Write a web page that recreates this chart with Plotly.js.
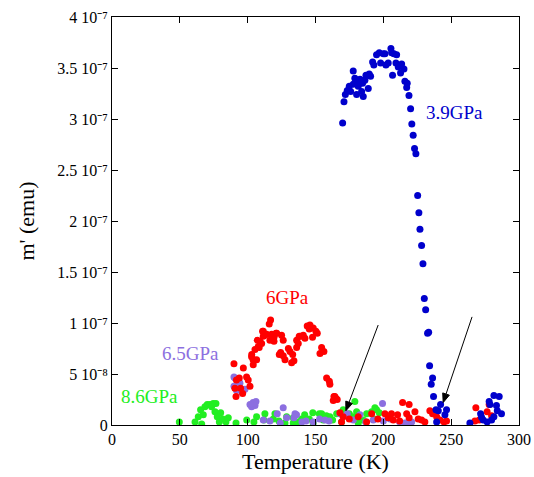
<!DOCTYPE html>
<html>
<head>
<meta charset="utf-8">
<script src="https://cdn.plot.ly/plotly-3.0.1.min.js"></script>
<style>html,body{margin:0;padding:0;background:#fff;}#chart{width:534px;height:477px;}</style>
</head>
<body>
<div id="chart"></div>
<script>
// values: temperature (K) and m' in units of 1e-8 emu
const blueT = [170,171,172,173.4,174.9,175.9,177.8,179,177.8,180.8,181.5,180.3,182.8,184,185.2,184.7,186.4,187.2,188.9,189.6,190.6,192.1,193,195,197,198,200,201.2,201.9,203.6,205.6,206.1,207.8,209.3,209.8,206.8,211,212.7,213.5,215.2,215.9,217.6,217.2,218.9,220.1,221,222,223,224,225.3,226.2,227,228.2,229.2,230.2,231.2,232.6,233.4,234.1,236.3,235.3,237,242.2,238.8,246.6,245.4,239.3,240.5,263.8,271.7,278.6,281.5,285.4,283.4,287.1,284,281.5,273.6,276.5,279.8,272.4,278];
const blueM = [29.6,31.7,32.4,32.8,33.2,32.7,34.7,34,33.4,33.6,33.2,32.4,33.9,32.7,32.2,33.5,33.8,34.3,33,34.4,34.2,35.6,35.3,36.3,36.5,35.5,36.4,36.4,35.3,35.5,36.9,36.5,36.4,35.5,36.3,34.3,35.1,34.5,35.4,34.9,33.7,33.5,33.1,32.3,31,29.5,28.4,27.1,26.6,22.5,20.8,19.2,17.6,15.8,12.4,11.3,9.0,9.1,5.8,4.6,4.0,2.8,2.0,1.5,1.5,1.0,0.3,1.4,0.2,1.1,2.0,2.9,2.8,1.9,1.1,1.4,0.8,0.5,0.3,0.5,0.75,2.3];

const redT = [89.9,96.8,91.7,93.8,99.2,100.4,91.4,96.3,90.6,94.8,101.7,102.9,104,105.4,107.8,109,111.5,112.7,116.9,115.9,120.9,119.4,111,114,111.5,117.7,116.4,119.4,121.4,125,126.2,107.1,108.5,110.3,103,106.6,104.1,124.3,123.3,126.2,127.5,130,131.2,133.2,132.4,134.1,136.1,137.3,139,141,138,142.2,143.9,145.9,145.4,148.3,150.3,151.3,147.8,154.5,156.2,153.3,136.1,158.2,160.2,160.6,163.6,165.1,163.1,164.3,166,168,170.4,169.2,174.9,181.5,187.7,191.4,201.2,203.6,206,207.3,214.2,219,217.2,223.3,219,225.7,228.2,230.6,234.3,236.3,238,241.7,244.7,246.6,239.3,268.2,276.5,270.7,267.5,278,279.8,210.5,212,196];
const redM = [6.0,5.6,4.4,4.6,4.7,4.4,2.8,3.1,3.6,3.6,3.8,6.7,6.4,7.4,7.7,8.2,9.2,8.8,10.3,9.9,9.0,8.2,9.2,8.9,8.7,8.9,8.3,8.6,9.0,8.8,8.3,8.3,7.6,8.0,6.9,6.4,5.9,7.1,6.9,6.8,6.4,7.5,7.2,6.9,6.1,6.3,7.6,8.0,8.7,8.8,8.7,8.5,9.7,9.8,9.4,9.5,9.2,9.0,8.6,7.6,7.2,7.0,8.3,4.6,4.3,4.0,2.8,2.6,2.4,2.8,2.5,1.2,0.8,0.3,0.6,0.8,0.3,1.1,1.1,0.7,1.1,0.5,2.2,2.0,1.1,1.3,0.7,0.6,0.5,0.3,1.4,1.1,1.3,0.5,0.3,0.4,0.8,1.7,1.3,0.5,0.4,2.0,0.9,1.0,0.4,0.6];

const purpleT = [89.9,94.3,89.9,96.8,91.7,93.8,90.6,93,91.7,98,95.6,104,102.9,106.1,105.4,101.7,111.5,116.4,121.8,126.2,128.7,134.1,136,134.9,143,148.3,153,160,168,173.4,177.8,182.8,187,192.6,199.4,200,205,212,216,217.2,219.6,220.9,124,140,157];
const purpleM = [4.7,4.1,3.8,3.4,3.8,4.2,4.6,3.9,3.4,3.5,3.2,2.2,1.8,2.3,1.9,2.0,0.5,0.4,1.1,1.7,0.7,0.7,1.0,1.1,0.4,0.3,0.6,0.4,1.1,1.1,0.5,1.0,0.3,0.5,2.1,0.4,0.6,0.3,0.2,0.2,0.2,0.3,0.2,0.3,0.5];

const greenT = [49.6,61.2,66.1,63.6,67.3,65.3,68.5,70.2,72.2,74.6,76.6,73.4,75.9,77.6,80.1,79.1,81.6,84,85.7,91.4,99.3,104.6,106.6,112.7,112,118.9,120.1,127.5,128.7,133.6,133.6,139.8,145.4,148.3,152.8,154.5,155.7,160.6,162.6,165.6,169.2,174.9,177.4,179,180.3,181.5,185.2,187.7,191.4,193.8,195,197,193.1,170.4,148,168,123,137,142,158];
const greenM = [0.3,0.3,0.1,0.8,1.0,1.5,1.8,2.0,2.0,2.1,2.1,1.8,1.3,0.8,1.2,0.3,0.6,0.3,0.7,0.2,0.5,0.3,0.8,1.1,0.5,0.6,1.1,0.2,0.8,0.7,0.2,0.6,0.6,0.2,1.1,1.1,0.5,0.8,0.5,1.1,0.3,1.1,0.8,2.3,1.3,0.2,0.5,1.1,1.3,1.7,1.5,1.2,0.6,1.5,1.2,1.1,0.4,0.3,1.0,0.9];

const yTickVals = [0,5e-8,1e-7,1.5e-7,2e-7,2.5e-7,3e-7,3.5e-7,4e-7];
const yTickText = ['0','5 10⁻⁸','1 10⁻⁷','1.5 10⁻⁷','2 10⁻⁷','2.5 10⁻⁷','3 10⁻⁷','3.5 10⁻⁷','4 10⁻⁷'];

const labels = ['3.9GPa','6GPa','6.5GPa','8.6GPa'];
const colors = ['#0000cc','#ff0000','#8c6fe0','#22ee22'];

// arrows: [tailT, tailM(1e-8), headT, headM(1e-8)]
const arrow1 = [196.2, 9.8, 172.4, 1.4];
const arrow2 = [265.4, 10.6, 244.1, 2.2];

const toEmu = a => a.map(v => v*1e-8);
function tr(x,y,c){return {x:x,y:toEmu(y),mode:'markers',type:'scatter',marker:{color:c,size:7}};}

const data = [tr(greenT,greenM,colors[3]), tr(purpleT,purpleM,colors[2]), tr(redT,redM,colors[1]), tr(blueT,blueM,colors[0])];

const W = 534, H = 477, M = {l:112,r:15,t:17,b:52};
const XR = [0,300], YR = [0,4e-7];
const sx = (W-M.l-M.r)/(XR[1]-XR[0]);
const sy = (H-M.t-M.b)/(YR[1]-YR[0]);
function arrowShapes(a){
  const x0=a[0], y0=a[1]*1e-8, x1=a[2], y1=a[3]*1e-8;
  let dx=(x1-x0)*sx, dy=(y1-y0)*sy; const L=Math.hypot(dx,dy); dx/=L; dy/=L;
  const hl=9, hw=3.5;
  const bx=x1-dx*hl/sx, by=y1-dy*hl/sy;
  const lx=bx+(-dy)*hw/sx, ly=by+(dx)*hw/sy;
  const rx=bx-(-dy)*hw/sx, ry=by-(dx)*hw/sy;
  return [
    {type:'line',xref:'x',yref:'y',x0:x0,y0:y0,x1:bx,y1:by,line:{color:'black',width:1}},
    {type:'path',xref:'x',yref:'y',path:`M ${x1} ${y1} L ${lx} ${ly} L ${rx} ${ry} Z`,fillcolor:'black',line:{color:'black',width:1}}
  ];
}

const FAM = 'Times New Roman';
const layout = {
  width:W,height:H,
  margin:M,
  showlegend:false,
  xaxis:{range:XR,tick0:0,dtick:50,ticks:'inside',ticklen:6,tickcolor:'black',showline:true,linecolor:'black',linewidth:1,mirror:'ticks',showgrid:false,zeroline:false,
    tickfont:{family:FAM,size:16,color:'black'},
    title:{text:'Temperature (K)',font:{family:FAM,size:22,color:'black'},standoff:6}},
  yaxis:{range:YR,tickmode:'array',tickvals:yTickVals,ticktext:yTickText,ticks:'inside',ticklen:6,tickcolor:'black',showline:true,linecolor:'black',linewidth:1,mirror:'ticks',showgrid:false,zeroline:false,
    tickfont:{family:FAM,size:16,color:'black'},
    title:{text:"m' (emu)",font:{family:FAM,size:22,color:'black'},standoff:16}},
  shapes:[].concat(arrowShapes(arrow1), arrowShapes(arrow2)),
  annotations:[
    {x:230,y:30.6e-8,text:labels[0],showarrow:false,xanchor:'left',font:{family:FAM,size:19,color:colors[0]}},
    {x:129.7,y:12.5e-8,text:labels[1],showarrow:false,font:{family:FAM,size:19,color:colors[1]}},
    {x:57.5,y:7.0e-8,text:labels[2],showarrow:false,font:{family:FAM,size:19,color:colors[2]}},
    {x:28,y:2.75e-8,text:labels[3],showarrow:false,font:{family:FAM,size:19,color:colors[3]}}
  ]
};
Plotly.newPlot('chart',data,layout,{displayModeBar:false,staticPlot:true});
</script>
</body>
</html>
